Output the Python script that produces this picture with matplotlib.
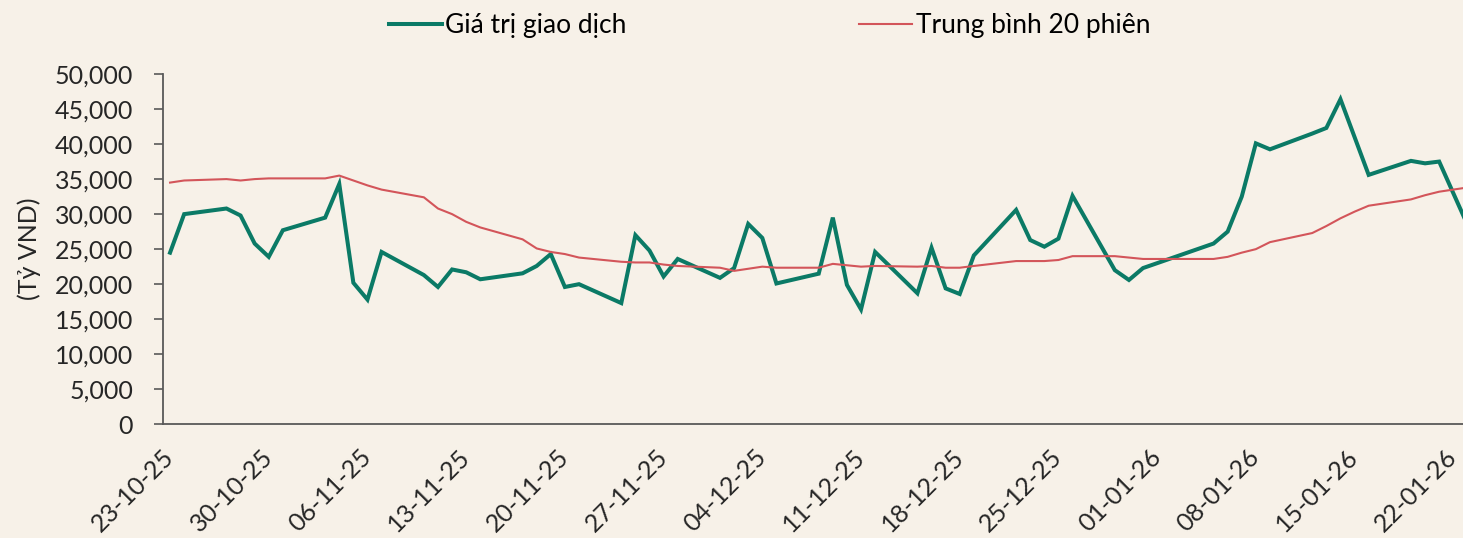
import matplotlib
matplotlib.use("Agg")
import matplotlib.pyplot as plt
import matplotlib.dates as mdates
import matplotlib.ticker as mticker
import pandas as pd

plt.rcParams['font.family'] = ['Lato', 'DejaVu Sans']

# trading days shown in the chart
dates = [
    '2025-10-23', '2025-10-24', '2025-10-27', '2025-10-28', '2025-10-29', '2025-10-30', '2025-10-31',
    '2025-11-03', '2025-11-04', '2025-11-05', '2025-11-06', '2025-11-07',
    '2025-11-10', '2025-11-11', '2025-11-12', '2025-11-13', '2025-11-14',
    '2025-11-17', '2025-11-18', '2025-11-19', '2025-11-20', '2025-11-21',
    '2025-11-24', '2025-11-25', '2025-11-26', '2025-11-27', '2025-11-28',
    '2025-12-01', '2025-12-02', '2025-12-03', '2025-12-04', '2025-12-05',
    '2025-12-08', '2025-12-09', '2025-12-10', '2025-12-11', '2025-12-12',
    '2025-12-15', '2025-12-16', '2025-12-17', '2025-12-18', '2025-12-19',
    '2025-12-22', '2025-12-23', '2025-12-24', '2025-12-25', '2025-12-26',
    '2025-12-29', '2025-12-30', '2025-12-31',
    '2026-01-05', '2026-01-06', '2026-01-07', '2026-01-08', '2026-01-09',
    '2026-01-12', '2026-01-13', '2026-01-14', '2026-01-15', '2026-01-16',
    '2026-01-19', '2026-01-20', '2026-01-21', '2026-01-22', '2026-01-23',
]

# Giá trị giao dịch (tỷ VND)
trade_value = [
    24500, 30000, 30800, 29800, 25800, 23900, 27700,
    29500, 34300, 20200, 17800, 24600,
    21300, 19600, 22100, 21700, 20700,
    21550, 22600, 24300, 19600, 20000,
    17300, 27000, 24800, 21100, 23600,
    20900, 22300, 28600, 26600, 20100,
    21500, 29500, 19900, 16400, 24600,
    18700, 25200, 19400, 18600, 24100,
    30600, 26300, 25350, 26500, 32600,
    22000, 20600, 22300,
    25800, 27500, 32500, 40100, 39250,
    41500, 42300, 46400, 41000, 35600,
    37600, 37250, 37500, 33000, 28500,
]

# Trung bình 20 phiên
ma20 = [
    34500, 34800, 35000, 34800, 35000, 35100, 35100,
    35100, 35500, 34800, 34100, 33500,
    32400, 30800, 30000, 28900, 28100,
    26400, 25100, 24600, 24300, 23800,
    23200, 23100, 23100, 22800, 22600,
    22350, 21900, 22200, 22500, 22350,
    22350, 22900, 22700, 22500, 22600,
    22500, 22600, 22350, 22350, 22600,
    23300, 23300, 23300, 23450, 24000,
    24000, 23800, 23600,
    23600, 23900, 24500, 25000, 26000,
    27300, 28300, 29400, 30350, 31200,
    32100, 32700, 33200, 33500, 33800,
]

tick_dates = pd.date_range('2025-10-23', '2026-01-22', freq='7D')

bg = '#F7F1E8'
green = '#0B7A66'
red = '#D3555A'
axis_col = '#595959'
text_col = '#262626'

x = pd.to_datetime(dates)

fig = plt.figure(figsize=(14.63, 5.38), dpi=100, facecolor=bg)
ax = fig.add_axes([163 / 1463, 113.7 / 538, 1 - 163 / 1463, 350.3 / 538])
ax.set_facecolor(bg)

l1, = ax.plot(x, trade_value, color=green, lw=2.9, label='Giá trị giao dịch', solid_joinstyle='miter')
l2, = ax.plot(x, ma20, color=red, lw=1.5, label='Trung bình 20 phiên')

start = pd.Timestamp('2025-10-23')
ax.set_xlim(start - pd.Timedelta(hours=12), start + pd.Timedelta(days=91.69))
ax.set_ylim(0, 50000)
ax.yaxis.set_major_locator(mticker.MultipleLocator(5000))
ax.yaxis.set_major_formatter(mticker.FuncFormatter(lambda v, p: f'{int(v):,}'))

ax.set_xticks(tick_dates)
ax.xaxis.set_major_formatter(mdates.DateFormatter('%d-%m-%y'))

for s in ['top', 'right']:
    ax.spines[s].set_visible(False)
for s in ['left', 'bottom']:
    ax.spines[s].set_color(axis_col)
    ax.spines[s].set_linewidth(1.3)

ax.tick_params(axis='y', length=6.5, width=1.2, color=axis_col, pad=15,
               labelsize=18, labelcolor=text_col)
ax.tick_params(axis='x', length=0, pad=21, labelsize=18, labelcolor=text_col)
plt.setp(ax.get_xticklabels(), rotation=45, ha='right', va='center', rotation_mode='anchor')

ax.set_ylabel('(Tỷ VND)', fontsize=18, color=text_col, labelpad=10)

fig.legend(handles=[l1, l2], loc='center', bbox_to_anchor=(0.526, 0.952), ncol=2,
           frameon=False, fontsize=19, handlelength=2.0, handletextpad=0.15,
           columnspacing=8.8)

fig.savefig('out.png', dpi=100, facecolor=bg)
